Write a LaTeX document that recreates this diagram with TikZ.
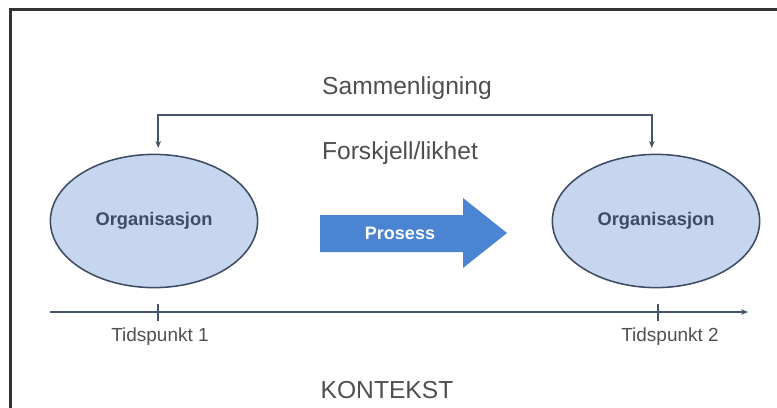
\documentclass[tikz,border=0pt]{standalone}
\usepackage{fontspec}
\setmainfont{Liberation Sans}
\usetikzlibrary{shapes.geometric,arrows.meta}

\definecolor{linje}{HTML}{46536A}
\definecolor{orgfill}{HTML}{C6D6EE}
\definecolor{orgdraw}{HTML}{3E4C63}
\definecolor{pilfarge}{HTML}{4A84D2}
\definecolor{tekst}{HTML}{4F4F4F}

\tikzset{
    ramme/.style={line width=1.8pt, black!80},
    org/.style={ellipse, draw=orgdraw, fill=orgfill, line width=1.1pt,
        minimum width=5.18cm, minimum height=3.33cm, inner sep=0pt,
        font=\fontsize{13}{15}\selectfont\bfseries, text=orgdraw},
    etikett/.style={font=\fontsize{17.5}{20}\selectfont, text=tekst, inner sep=0pt},
    tid/.style={font=\fontsize{13.5}{16}\selectfont, text=tekst, inner sep=0pt},
    linjepil/.style={linje, line width=1.3pt, -{Stealth[length=5pt,width=4pt]}},
    prosesspil/.style={fill=pilfarge, draw=none},
}

\begin{document}
\begin{tikzpicture}[x=0.025cm,y=-0.025cm]
    \useasboundingbox (0,0) rectangle (777,408);

    % Frame (cut at the right and bottom)
    \draw[ramme] (10.5,408) -- (10.5,9.5) -- (777,9.5);

    % Organisations at the two points in time
    \node[org] (org1) at (154,221) {Organisasjon};
    \node[org] (org2) at (656,221) {Organisasjon};

    % Comparison bracket
    \node[etikett] (samm) at (407,88) {Sammenligning};
    \node[etikett] (forskjell) at (400,153) {Forskjell/likhet};
    \coordinate (topp) at (405,115);
    \draw[linjepil, {Stealth[length=5pt,width=4pt]}-{Stealth[length=5pt,width=4pt]},
        shorten <=4pt, shorten >=4pt]
        ([xshift=3pt]org1.north) |- (topp) -| ([xshift=-3pt]org2.north);

    % Process arrow
    \draw[prosesspil] (320,215) -- (463,215) -- (463,198) -- (507,233)
        -- (463,268) -- (463,252) -- (320,252) -- cycle;
    \node[font=\fontsize{12.8}{15}\selectfont\bfseries, text=white] (prosess) at (400,233) {Prosess};

    % Time line
    \coordinate (tstart) at (50,312);
    \coordinate (tslutt) at (748,312);
    \draw[linjepil] (tstart) -- (tslutt);

    \coordinate (t1) at (158,312);
    \coordinate (t2) at (658,312);
    \draw[linje, line width=1.5pt] (t1) ++(0,-8) -- ++(0,17);
    \draw[linje, line width=1.5pt] (t2) ++(0,-8) -- ++(0,17);

    \node[tid] (tid1) at (160,337) {Tidspunkt 1};
    \node[tid] (tid2) at (670,337) {Tidspunkt 2};

    % Context
    \node[etikett] (kontekst) at (387,390) {KONTEKST};

\end{tikzpicture}
\end{document}
